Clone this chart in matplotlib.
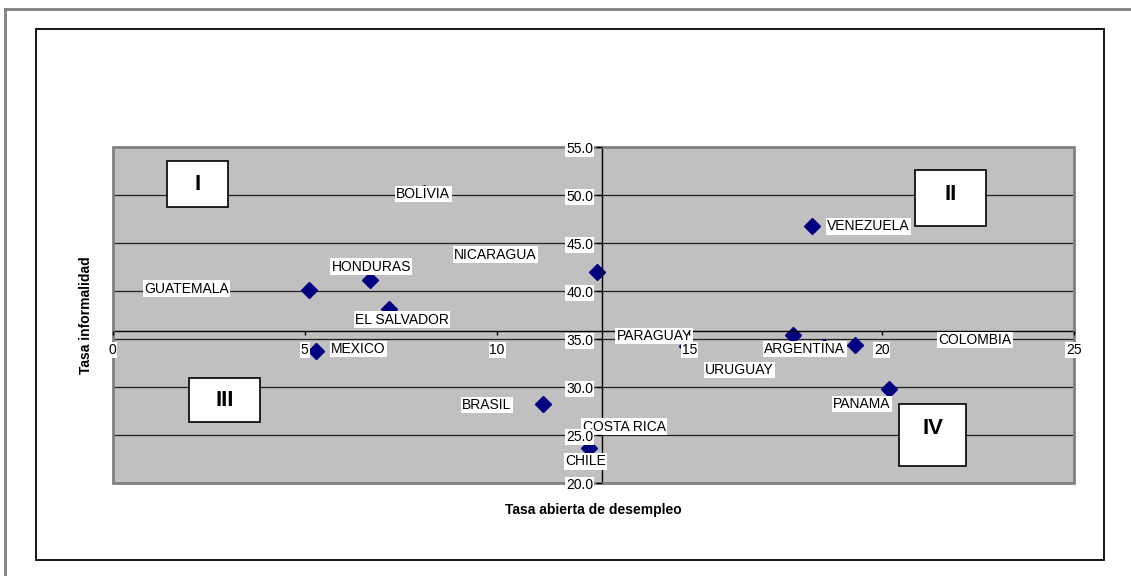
import matplotlib
matplotlib.use('Agg')
import matplotlib.pyplot as plt
from matplotlib.patches import Rectangle
from matplotlib.lines import Line2D
import numpy as np

plt.rcParams['font.family'] = ['Liberation Sans', 'DejaVu Sans']

paises = ['BOLIVIA', 'NICARAGUA', 'HONDURAS', 'GUATEMALA', 'EL SALVADOR',
          'MEXICO', 'BRASIL', 'CHILE', 'COSTA RICA', 'PARAGUAY',
          'VENEZUELA', 'ARGENTINA', 'URUGUAY', 'COLOMBIA', 'PANAMA']
desempleo = [8.1, 12.6, 6.7, 5.1, 7.2, 5.3, 11.2, 12.4, 13.3, 14.95,
             18.2, 17.7, 18.5, 19.3, 20.2]
informalidad = [50.2, 42.0, 41.2, 40.1, 38.2, 33.8, 28.3, 23.7, 26.0, 34.3,
                46.8, 35.4, 34.2, 34.4, 29.8]

x_ticks = [0, 5, 10, 15, 20, 25]
y_ticks = [20, 25, 30, 35, 40, 45, 50, 55]

# where each country label sits (data coords, centre of the text)
pos_etiqueta = {
    'BOLIVIA': (8.08, 50.14), 'NICARAGUA': (9.96, 43.8), 'HONDURAS': (6.73, 42.58),
    'GUATEMALA': (1.93, 40.27), 'EL SALVADOR': (7.53, 37.06), 'MEXICO': (6.40, 34.0),
    'BRASIL': (9.73, 28.16), 'CHILE': (12.3, 22.3), 'COSTA RICA': (13.3, 25.9),
    'PARAGUAY': (14.09, 35.34), 'VENEZUELA': (19.66, 46.78), 'ARGENTINA': (18.0, 34.0),
    'URUGUAY': (16.3, 31.8), 'PANAMA': (19.49, 28.26), 'COLOMBIA': (22.42, 34.93),
}

W, H = 1131, 576
fig = plt.figure(figsize=(W / 100, H / 100), dpi=100)

def fx(px):
    return px / W

def fy(py):
    return 1 - py / H

# outer frame lines and chart area box
fig.add_artist(Line2D([fx(5), 1], [fy(9), fy(9)], color='#808080', lw=2))
fig.add_artist(Line2D([fx(5), fx(5)], [fy(9), 0], color='#808080', lw=2))
fig.add_artist(Rectangle((fx(36), fy(560)), fx(1104) - fx(36), fy(29) - fy(560),
                         fill=False, edgecolor='black', lw=1.3))

ax = fig.add_axes([fx(112.5), fy(483.3), fx(1074) - fx(112.5), fy(147.3) - fy(483.3)])
ax.set_facecolor('#c0c0c0')
ax.set_xlim(0, 25)
ax.set_ylim(20, 55)

# axes cross at the average of both series
x_medio = np.mean(desempleo)
y_medio = np.mean(informalidad)
ax.spines['left'].set_position(('data', x_medio))
ax.spines['bottom'].set_position(('data', y_medio))
ax.spines['top'].set_visible(False)
ax.spines['right'].set_visible(False)
for s in ['left', 'bottom']:
    ax.spines[s].set_color('black')
    ax.spines[s].set_linewidth(1.0)
ax.add_patch(Rectangle((0, 0), 1, 1, transform=ax.transAxes, fill=False,
                       edgecolor='#808080', lw=2, clip_on=False, zorder=2.6))

# gridlines under the markers, tick labels over them
for v in y_ticks[1:-1]:
    ax.axhline(v, color='#202020', lw=0.9, zorder=1)
ax.xaxis.set_zorder(3.5)
ax.yaxis.set_zorder(3.5)

ax.set_xticks(x_ticks)
ax.set_yticks(y_ticks)
ax.set_yticklabels([f'{v:.1f}' for v in y_ticks])
ax.tick_params(axis='x', direction='out', length=3, width=1, pad=6, labelsize=10)
ax.tick_params(axis='y', direction='out', length=4, width=1, pad=2, labelsize=10)
for lbl in ax.get_xticklabels() + ax.get_yticklabels():
    lbl.set_bbox(dict(facecolor='white', edgecolor='none', pad=0.6))

ax.plot(desempleo, informalidad, linestyle='none', marker='D', markersize=8,
        color='#000080', zorder=2)

for p in paises:
    px, py = pos_etiqueta[p]
    ax.text(px, py, p, ha='center', va='center', fontsize=10, zorder=3,
            bbox=dict(facecolor='white', edgecolor='none', pad=1.0))

# quadrant boxes
def cuadrante(x0, y0, x1, y1, texto, ty):
    fig.add_artist(Rectangle((fx(x0), fy(y1)), fx(x1) - fx(x0), fy(y0) - fy(y1),
                             facecolor='white', edgecolor='black', lw=1.2, zorder=5))
    fig.text(fx((x0 + x1) / 2), fy(ty), texto, ha='center', va='center',
             fontsize=16, fontweight='bold', zorder=6)

cuadrante(167, 161, 228, 207, 'I', 184)
cuadrante(915, 170, 986, 226, 'II', 194)
cuadrante(189, 378, 260, 422, 'III', 401)
cuadrante(899, 404, 966, 466, 'IV', 428)

fig.text(fx(593), fy(510), 'Tasa abierta de desempleo', ha='center', va='center',
         fontsize=10, fontweight='bold')
fig.text(fx(86), fy(315), 'Tasa informalidad', ha='center', va='center',
         fontsize=10, fontweight='bold', rotation=90)

plt.savefig('out.png', dpi=100)
